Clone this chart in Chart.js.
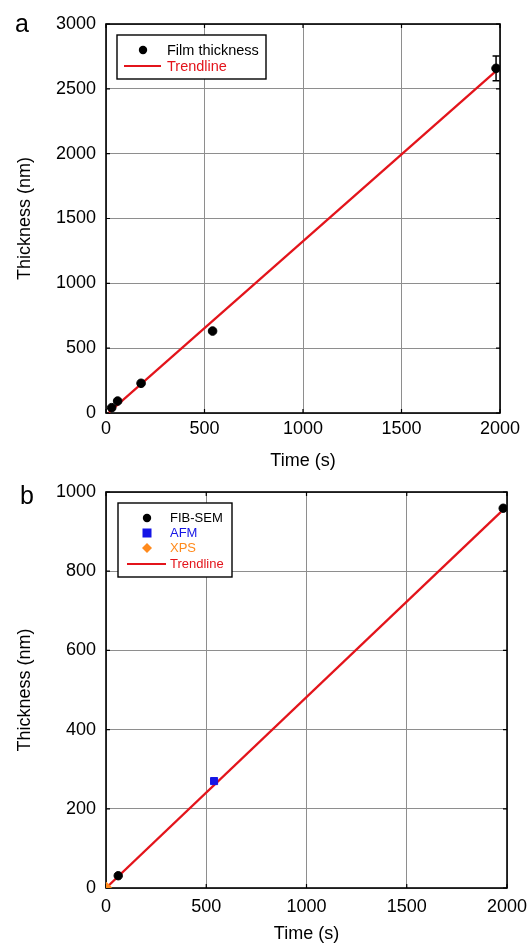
<!DOCTYPE html>
<html>
<head>
<meta charset="utf-8">
<script src="https://cdn.jsdelivr.net/npm/chart.js@4/dist/chart.umd.min.js"></script>
<style>
  html, body { margin: 0; padding: 0; background: #fff; }
  body { width: 530px; height: 945px; position: relative; overflow: hidden; font-family: "Liberation Sans", Arial, sans-serif; }
  canvas { position: absolute; left: 0; }
  #cA { top: 0; }
  #cB { top: 470px; }
  .panel { position: absolute; font-size: 25px; color: #000; line-height: 1; }
</style>
</head>
<body>
<canvas id="cA" width="530" height="475"></canvas>
<canvas id="cB" width="545" height="475"></canvas>
<div class="panel" style="left:15px; top:11px;">a</div>
<div class="panel" style="left:20px; top:483px;">b</div>
<script>
// ---- Data ----
const xTicks = [0, 500, 1000, 1500, 2000];
const yTicksA = [0, 500, 1000, 1500, 2000, 2500, 3000];
const yTicksB = [0, 200, 400, 600, 800, 1000];

// Panel a
const timeA = [29, 59, 178, 541, 1980];
const thickA = [41, 92, 229, 632, 2658];
const errA = [0, 0, 0, 0, 95];
const trendTimeA = [15, 1975];
const trendThickA = [5, 2630];

// Panel b
const fibTime = [61, 1981];
const fibThick = [31, 959];
const afmTime = [539];
const afmThick = [270];
const xpsTime = [2];
const xpsThick = [2];
const trendTimeB = [0, 1970];
const trendThickB = [0, 950];

const FONT = '"Liberation Sans", Arial, sans-serif';
const RED = '#e3141b';
const BLUE = '#1515e6';
const ORANGE = '#ff8a1c';
const GRID = '#8e8e8e';

function pts(xs, ys) { return xs.map((x, i) => ({ x: x, y: ys[i] })); }

const framePlugin = {
  id: 'frame',
  beforeDatasetsDraw(chart) {
    const { ctx, chartArea: a } = chart;
    ctx.save();
    ctx.strokeStyle = '#000';
    ctx.lineWidth = 1.6;
    ctx.strokeRect(a.left, a.top, a.right - a.left, a.bottom - a.top);
    const xs = chart.scales.x, ys = chart.scales.y;
    ctx.lineWidth = 1.2;
    ctx.beginPath();
    xs.ticks.forEach(t => {
      const p = xs.getPixelForValue(t.value);
      ctx.moveTo(p, a.bottom); ctx.lineTo(p, a.bottom - 4);
      ctx.moveTo(p, a.top); ctx.lineTo(p, a.top + 4);
    });
    ys.ticks.forEach(t => {
      const p = ys.getPixelForValue(t.value);
      ctx.moveTo(a.left, p); ctx.lineTo(a.left + 4, p);
      ctx.moveTo(a.right, p); ctx.lineTo(a.right - 4, p);
    });
    ctx.stroke();
    ctx.restore();
  }
};

const errorBarPlugin = {
  id: 'errbars',
  afterDatasetsDraw(chart, args, opts) {
    if (!opts || !opts.errors) return;
    const ds = chart.data.datasets[opts.datasetIndex];
    const { ctx } = chart;
    const xs = chart.scales.x, ys = chart.scales.y;
    ctx.save();
    ctx.strokeStyle = '#000';
    ctx.lineWidth = 1.5;
    ds.data.forEach((p, i) => {
      const e = opts.errors[i];
      if (!e) return;
      const px = xs.getPixelForValue(p.x);
      const top = ys.getPixelForValue(p.y + e);
      const bot = ys.getPixelForValue(p.y - e);
      ctx.beginPath();
      ctx.moveTo(px, top); ctx.lineTo(px, bot);
      ctx.moveTo(px - 3.5, top); ctx.lineTo(px + 3.5, top);
      ctx.moveTo(px - 3.5, bot); ctx.lineTo(px + 3.5, bot);
      ctx.stroke();
    });
    ctx.restore();
  }
};

const legendPlugin = {
  id: 'boxlegend',
  afterDraw(chart, args, opts) {
    if (!opts || !opts.items) return;
    const { ctx } = chart;
    const b = opts.box;
    ctx.save();
    ctx.fillStyle = '#fff';
    ctx.fillRect(b.x, b.y, b.w, b.h);
    ctx.strokeStyle = '#000';
    ctx.lineWidth = 1.4;
    ctx.strokeRect(b.x, b.y, b.w, b.h);
    ctx.font = opts.fontSize + 'px ' + FONT;
    ctx.textBaseline = 'middle';
    ctx.textAlign = 'left';
    opts.items.forEach(it => {
      const y = it.y;
      ctx.fillStyle = it.color;
      ctx.strokeStyle = it.color;
      if (it.kind === 'circle') {
        ctx.beginPath(); ctx.arc(opts.markerX, y, 4.2, 0, Math.PI * 2); ctx.fill();
      } else if (it.kind === 'rect') {
        ctx.fillRect(opts.markerX - 4.5, y - 4.5, 9, 9);
      } else if (it.kind === 'diamond') {
        ctx.beginPath();
        ctx.moveTo(opts.markerX, y - 5); ctx.lineTo(opts.markerX + 5, y);
        ctx.lineTo(opts.markerX, y + 5); ctx.lineTo(opts.markerX - 5, y);
        ctx.closePath(); ctx.fill();
      } else if (it.kind === 'line') {
        ctx.lineWidth = 2.2;
        ctx.beginPath(); ctx.moveTo(opts.lineX0, y); ctx.lineTo(opts.lineX1, y); ctx.stroke();
      }
      ctx.fillStyle = it.textColor;
      ctx.fillText(it.label, opts.textX, y + 0.5);
    });
    ctx.restore();
  }
};

function makeOptions(cfg) {
  return {
    responsive: false,
    animation: false,
    events: [],
    layout: { padding: { top: cfg.padTop, right: cfg.padRight, left: 0, bottom: 0 } },
    plugins: {
      legend: { display: false },
      tooltip: { enabled: false },
      errbars: cfg.errbars || {},
      boxlegend: cfg.legend
    },
    scales: {
      x: {
        type: 'linear',
        min: 0, max: 2000,
        afterBuildTicks: s => { s.ticks = xTicks.map(v => ({ value: v })); },
        afterFit: s => { s.height = cfg.xHeight; },
        grid: { color: GRID, lineWidth: 1, drawTicks: false },
        border: { display: false },
        ticks: { color: '#000', padding: cfg.xTickPad, font: { family: FONT, size: 18 }, maxRotation: 0,
                 callback: v => String(v) },
        title: { display: true, text: 'Time (s)', color: '#000', font: { family: FONT, size: 18 }, padding: { top: 0, bottom: cfg.xTitlePad } }
      },
      y: {
        type: 'linear',
        min: 0, max: cfg.yMax,
        afterBuildTicks: s => { s.ticks = cfg.yTicks.map(v => ({ value: v })); },
        afterFit: s => { s.width = 106; },
        grid: { color: GRID, lineWidth: 1, drawTicks: false },
        border: { display: false },
        ticks: { color: '#000', padding: 10, font: { family: FONT, size: 18 }, callback: v => String(v) },
        title: { display: true, text: 'Thickness (nm)', color: '#000', font: { family: FONT, size: 18 }, padding: { top: 14, bottom: 0 } }
      }
    }
  };
}

new Chart(document.getElementById('cA'), {
  type: 'scatter',
  data: {
    datasets: [
      { label: 'Film thickness', data: pts(timeA, thickA), order: 1,
        backgroundColor: '#000', borderColor: '#000', pointRadius: 4.3, pointStyle: 'circle', showLine: false },
      { label: 'Trendline', data: pts(trendTimeA, trendThickA), order: 2,
        borderColor: RED, borderWidth: 2.3, pointRadius: 0, showLine: true, fill: false }
    ]
  },
  options: makeOptions({
    padTop: 24, padRight: 30, xHeight: 62, xTickPad: 5, xTitlePad: 3,
    yMax: 3000, yTicks: yTicksA,
    errbars: { datasetIndex: 0, errors: errA },
    legend: {
      box: { x: 117, y: 35, w: 149, h: 44 },
      fontSize: 14.5, markerX: 143, lineX0: 124, lineX1: 161, textX: 167,
      items: [
        { kind: 'circle', label: 'Film thickness', color: '#000', textColor: '#000', y: 50 },
        { kind: 'line', label: 'Trendline', color: RED, textColor: RED, y: 66 }
      ]
    }
  }),
  plugins: [framePlugin, errorBarPlugin, legendPlugin]
});

new Chart(document.getElementById('cB'), {
  type: 'scatter',
  data: {
    datasets: [
      { label: 'FIB-SEM', data: pts(fibTime, fibThick), order: 1,
        backgroundColor: '#000', borderColor: '#000', pointRadius: 4.2, pointStyle: 'circle', showLine: false },
      { label: 'AFM', data: pts(afmTime, afmThick), order: 1,
        backgroundColor: BLUE, borderColor: BLUE, pointRadius: 5, pointStyle: 'rect', showLine: false },
      { label: 'XPS', data: pts(xpsTime, xpsThick), order: 1,
        backgroundColor: ORANGE, borderColor: ORANGE, pointRadius: 5, pointStyle: 'rectRot', showLine: false },
      { label: 'Trendline', data: pts(trendTimeB, trendThickB), order: 2,
        borderColor: RED, borderWidth: 2.3, pointRadius: 0, showLine: true, fill: false }
    ]
  },
  options: makeOptions({
    padTop: 22, padRight: 38, xHeight: 57, xTickPad: 8, xTitlePad: 0,
    yMax: 1000, yTicks: yTicksB,
    legend: {
      box: { x: 118, y: 33, w: 114, h: 74 },
      fontSize: 13, markerX: 147, lineX0: 127, lineX1: 166, textX: 170,
      items: [
        { kind: 'circle', label: 'FIB-SEM', color: '#000', textColor: '#000', y: 48 },
        { kind: 'rect', label: 'AFM', color: BLUE, textColor: BLUE, y: 63 },
        { kind: 'diamond', label: 'XPS', color: ORANGE, textColor: ORANGE, y: 78 },
        { kind: 'line', label: 'Trendline', color: RED, textColor: RED, y: 94 }
      ]
    }
  }),
  plugins: [framePlugin, legendPlugin]
});
</script>
</body>
</html>
